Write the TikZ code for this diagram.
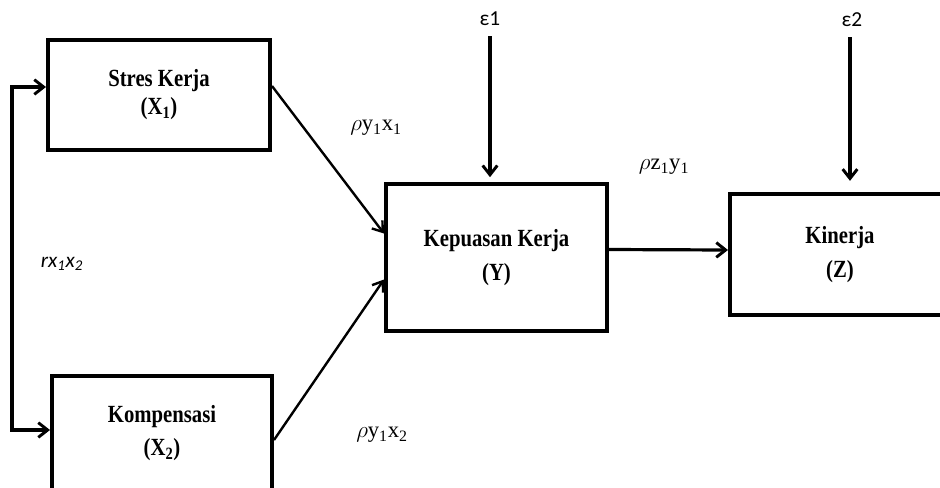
\documentclass[tikz,border=0pt]{standalone}
\usepackage{fontspec}
\setmainfont{Liberation Serif}
\newfontfamily\boxfont[FakeStretch=0.84]{Liberation Serif}
\newfontfamily\calfont{Carlito}
\usetikzlibrary{arrows.meta,calc}
\begin{document}
\begin{tikzpicture}[x=0.75pt,y=-0.75pt,
  box/.style={draw,line width=3pt,minimum width=#1,inner sep=0pt,align=center,
    font=\boxfont\bfseries\fontsize{18.5}{21}\selectfont},
  wide/.style={font=\boxfont\bfseries\fontsize{18.5}{25}\selectfont},
  arr/.style={line width=2.4pt,-{Straight Barb[length=7pt,width=11pt,line width=2.2pt]}},
  diag/.style={line width=1.8pt,-{Straight Barb[length=7pt,width=10pt,line width=1.8pt]}},
  lab/.style={font=\fontsize{17}{19}\selectfont,inner sep=0pt},
  eps/.style={font=\calfont\fontsize{16}{18}\selectfont,inner sep=0pt}]
\useasboundingbox (0,0) rectangle (940,487);
\clip (0,0) rectangle (940,487);
\node[box=166.5pt,minimum height=82.5pt] (s1) at (159,95) {Stres Kerja\\(X\textsubscript{1})};
\node[box=165pt,minimum height=85pt,wide] (s2) at (162,433) {Kompensasi\\(X\textsubscript{2})};
\node[box=165.75pt,minimum height=110pt,wide] (y) at (496.5,257.5) {Kepuasan Kerja\\(Y)};
\node[box=165pt,minimum height=91pt,wide] (z) at (840,254.5) {Kinerja\\(Z)};
\coordinate (a1) at (12,87);
\coordinate (a2) at (12,430);
\draw[line width=2.4pt,{Straight Barb[length=7pt,width=11pt,line width=2.2pt]}-{Straight Barb[length=7pt,width=11pt,line width=2.2pt]}]
  (a1 -| s1.west) -- (a1) -- (a2) -- (a2 -| s2.west);
\draw[diag] ($(s1.east)+(0,-9)$) -- ($(y.west)+(0,-24)$);
\draw[diag] ($(s2.east)+(0,7)$) -- ($(y.west)+(0,22)$);
\draw[arr] ($(y.east)+(0,-8)$) -- ($(z.west)+(0,-4.5)$);
\node[eps] (e1) at (490,19) {ε1};
\node[eps] (e2) at (852,20) {ε2};
\draw[arr] ($(e1.south)+(0,10)$) -- ($(y.north)+(-6.5,-5)$);
\draw[arr] ($(e2.south)+(-2,10)$) -- ($(z.north)+(10,-11)$);
\node[lab] (l1) at (376,128) {$\rho$y\textsubscript{1}x\textsubscript{1}};
\node[lab] (l2) at (664,167) {$\rho$z\textsubscript{1}y\textsubscript{1}};
\node[lab] (l3) at (382,435) {$\rho$y\textsubscript{1}x\textsubscript{2}};
\node[lab,font=\calfont\itshape\fontsize{16}{18}\selectfont] (l4) at (62,264) {rx\textsubscript{1}x\textsubscript{2}};
\end{tikzpicture}
\end{document}
